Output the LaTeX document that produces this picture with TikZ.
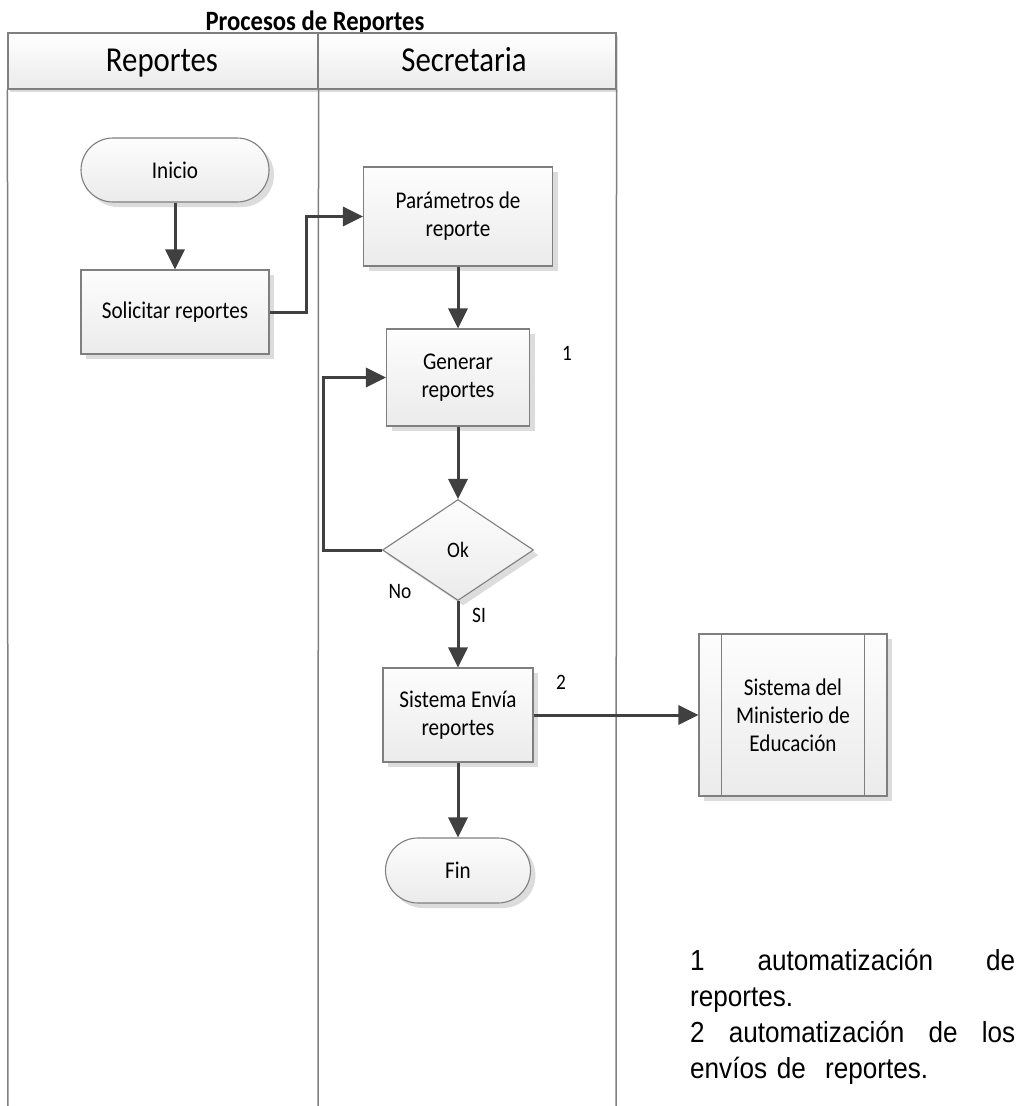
\documentclass[tikz,border=0pt]{standalone}
\usepackage{fontspec}
\usetikzlibrary{arrows.meta,shapes.geometric,shapes.misc,shadows,calc}
\newfontfamily\calfont[FakeStretch=0.88]{Carlito}
\newfontfamily\arialfont[FakeStretch=0.9]{Liberation Sans}
\definecolor{edgegray}{HTML}{7F7F7F}
\definecolor{flowgray}{HTML}{404040}
\definecolor{fillA}{HTML}{FDFDFD}
\definecolor{fillB}{HTML}{EBEBEB}
\definecolor{shadegray}{HTML}{DCDCDC}

\tikzset{
  box/.style={draw=edgegray, line width=1.1pt, top color=fillA, bottom color=fillB,
    inner sep=0pt, align=center, font=\calfont\fontsize{24}{28}\selectfont,
    drop shadow={shadow xshift=5pt, shadow yshift=-5pt, fill=shadegray, opacity=1}},
  procbox/.style={box, rectangle},
  termbox/.style={box, rounded rectangle},
  decidebox/.style={box, diamond, aspect=1.5},
  hdr/.style={draw=edgegray, line width=1.1pt, top color=white, bottom color=fillB,
    inner sep=0pt, font=\calfont\fontsize{35}{40}\selectfont,
    drop shadow={shadow xshift=2pt, shadow yshift=-3pt, fill=shadegray, opacity=1}},
  lane/.style={draw=edgegray, line width=1.5pt},
  flowline/.style={draw=flowgray, line width=3pt, -{Triangle[length=20pt,width=19pt]}},
  lbl/.style={inner sep=0pt, font=\calfont\fontsize{22}{26}\selectfont},
  notes/.style={inner sep=0pt, text width=325pt, align=left,
    font=\arialfont\fontsize{29}{36}\selectfont},
}

\begin{document}
\begin{tikzpicture}[x=1pt, y=-1pt]
  \useasboundingbox (0,0) rectangle (1024,1106);

  % title and swimlane headers
  \node[font=\calfont\bfseries\fontsize{28}{32}\selectfont, anchor=base, inner sep=0pt]
    (title) at (315,30) {Procesos de Reportes};
  \node[hdr, minimum width=310pt, minimum height=56pt] (laneA) at (163,61) {};
  \node[hdr, minimum width=298pt, minimum height=56pt] (laneB) at (467,61) {};
  \node[anchor=base, inner sep=0pt, font=\calfont\fontsize{35}{40}\selectfont]
    (laneAtxt) at (162,71) {Reportes};
  \node[anchor=base, inner sep=0pt, font=\calfont\fontsize{35}{40}\selectfont]
    (laneBtxt) at (464,71) {Secretaria};

  % lane borders
  \coordinate (bA) at (8,1106);
  \coordinate (bB) at (318,1106);
  \coordinate (bC) at (616,1106);
  \draw[lane] (laneA.south west) -- (bA);
  \draw[lane] (laneA.south east) -- (bB);
  \draw[lane] (laneB.south east) -- (bC);

  % flow nodes
  \node[termbox, minimum width=188pt, minimum height=64pt] (inicio) at (175,170) {Inicio};
  \node[procbox, minimum width=188pt, minimum height=84pt] (sol) at (175,312) {Solicitar reportes};
  \node[procbox, minimum width=189pt, minimum height=99pt] (param) at (458,216.5) {Parámetros de\\reporte};
  \node[procbox, minimum width=143pt, minimum height=97pt] (gen) at (458,377.5) {Generar\\reportes};
  \node[decidebox, minimum width=151pt, minimum height=101pt] (ok) at (458,550) {};
  \node[lbl] (oktxt) at (458,550) {Ok};
  \node[procbox, minimum width=150pt, minimum height=94pt] (env) at (458,715) {Sistema Envía\\reportes};
  \node[termbox, minimum width=145pt, minimum height=65pt] (fin) at (458,870.5) {Fin};
  \node[procbox, minimum width=188pt, minimum height=162pt] (mined) at (793,715) {Sistema del\\Ministerio de\\Educación};
  \draw[edgegray, line width=1.1pt]
    ($(mined.north west)+(23,0)$) -- ($(mined.south west)+(23,0)$)
    ($(mined.north east)+(-23,0)$) -- ($(mined.south east)+(-23,0)$);

  % labels
  \node[lbl] (n1) at (567,353) {1};
  \node[lbl] (n2) at (561,682) {2};
  \node[lbl] (no) at (400,592) {No};
  \node[lbl] (si) at (479,615) {SI};

  % connectors
  \draw[flowline] (inicio.south) -- (sol.north);
  \draw[flowline] (sol.east) -- ++(37,0) |- (param.west);
  \draw[flowline] (param.south) -- (gen.north);
  \draw[flowline] (gen.south) -- (ok.north);
  \draw[flowline] (ok.west) -- ++(-58,0) |- (gen.west);
  \draw[flowline] (ok.south) -- (env.north);
  \draw[flowline] (env.east) -- (mined.west);
  \draw[flowline] (env.south) -- (fin.north);

  % footnotes
  \node[notes, anchor=north west] (notes) at (690,949)
    {1\hfill automatización\hfill de\\
     reportes.\\
     2\hfill automatización\hfill de\hfill los\\
     envíos de\ \ reportes.};
\end{tikzpicture}
\end{document}
